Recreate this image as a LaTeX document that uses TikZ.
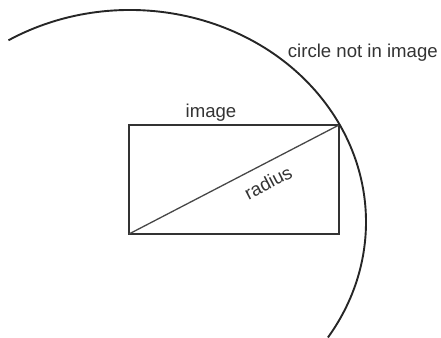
\documentclass[tikz,border=0pt]{standalone}
\usepackage{fontspec}
\setmainfont{Liberation Sans}
\usetikzlibrary{calc}
\begin{document}
\begin{tikzpicture}[x=1pt,y=-1pt,
  lbl/.style={inner sep=0pt,text=black!80,font=\fontsize{18.6}{20}\selectfont},
  edge/.style={draw=black!80,line width=1.6pt},
  diag/.style={draw=black!72,line width=1.3pt},
  circ/.style={draw=black!85,line width=1.9pt}]
\useasboundingbox (0,0) rectangle (441,337);
\coordinate (bl) at (129,234);
\coordinate (tr) at (339,125);
\coordinate (ctr) at (130,222);
\draw[edge] (bl) rectangle (tr);
\draw[diag] (bl) -- (tr);
\draw[circ] ($(ctr)+({236*cos(121)},{-212*sin(121)})$) arc[start angle=121,end angle=-33,x radius=236pt,y radius=212pt];
\node[lbl,anchor=base] (img) at (211,117.5) {image};
\node[lbl,anchor=base east] (cni) at (438,57.5) {circle not in image};
\node[lbl,rotate=27.4] (rad) at (268,182.5) {radius};
\end{tikzpicture}
\end{document}
